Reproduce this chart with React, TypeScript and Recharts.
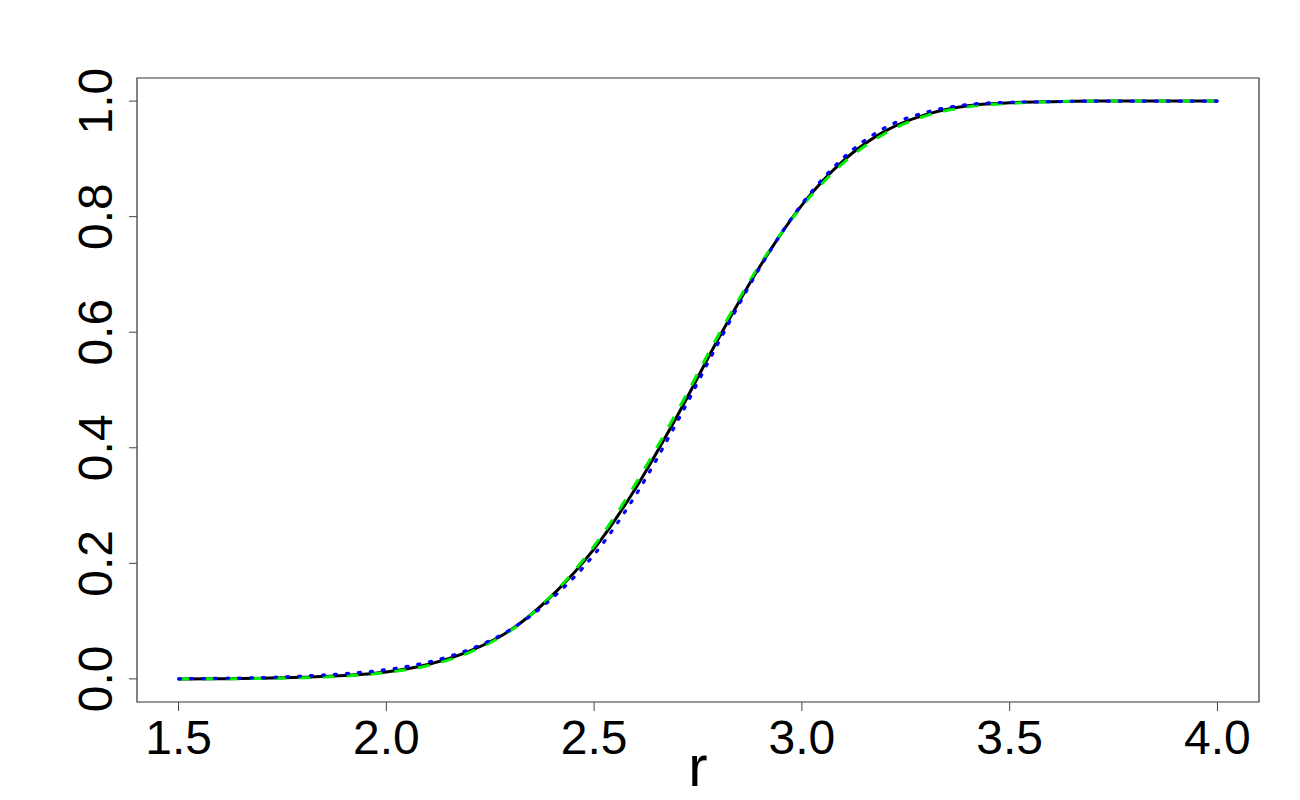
import React from "react";
import {
  LineChart,
  Line,
  XAxis,
  YAxis,
  ReferenceArea,
} from "recharts";

// r grid (0.1 steps)
const rValues = [
  1.5, 1.6, 1.7, 1.8, 1.9, 2.0, 2.1, 2.2, 2.3, 2.4, 2.5, 2.6, 2.7, 2.8, 2.9,
  3.0, 3.1, 3.2, 3.3, 3.4, 3.5, 3.6, 3.7, 3.8, 3.9, 4.0,
];

// solid black curve
const blackValues = [
  0, 0.0003, 0.001, 0.003, 0.006, 0.012, 0.025, 0.048, 0.085, 0.145, 0.225,
  0.33, 0.455, 0.59, 0.715, 0.82, 0.897, 0.948, 0.977, 0.992, 0.997, 0.999, 1,
  1, 1, 1,
];

// dashed green curve
const greenValues = [
  0, 0.0002, 0.0008, 0.002, 0.005, 0.011, 0.023, 0.046, 0.084, 0.146, 0.23,
  0.338, 0.463, 0.596, 0.718, 0.818, 0.893, 0.944, 0.975, 0.99, 0.996, 0.999,
  1, 1, 1, 1,
];

// dotted blue curve
const blueValues = [
  0, 0.001, 0.002, 0.005, 0.009, 0.016, 0.029, 0.051, 0.086, 0.14, 0.215,
  0.318, 0.445, 0.583, 0.713, 0.822, 0.902, 0.954, 0.981, 0.994, 0.998, 0.999,
  1, 1, 1, 1,
];

const xTicks = [1.5, 2.0, 2.5, 3.0, 3.5, 4.0];
const yTicks = [0, 0.2, 0.4, 0.6, 0.8, 1.0];

const FONT = "'Liberation Sans', Arial, sans-serif";

const chartData = rValues.map((r, i) => ({
  r,
  black: blackValues[i],
  green: greenValues[i],
  blue: blueValues[i],
}));

const XTick = (props: any) => {
  const { x, y, payload } = props;
  return (
    <text
      x={x}
      y={y + 41}
      textAnchor="middle"
      fontSize={48}
      fontFamily={FONT}
      fill="#000"
    >
      {Number(payload.value).toFixed(1)}
    </text>
  );
};

const YTick = (props: any) => {
  const { y, payload } = props;
  const bx = 112;
  return (
    <text
      x={bx}
      y={y}
      transform={`rotate(-90, ${bx}, ${y})`}
      textAnchor="middle"
      fontSize={48}
      fontFamily={FONT}
      fill="#000"
    >
      {Number(payload.value).toFixed(1)}
    </text>
  );
};

export default function App() {
  return (
    <div style={{ position: "absolute", left: 0, top: 0, background: "#fff" }}>
      <LineChart
        width={1300}
        height={800}
        data={chartData}
        margin={{ top: 78, right: 41, left: 0, bottom: 0 }}
      >
        <XAxis
          dataKey="r"
          type="number"
          domain={[1.4, 4.1]}
          ticks={xTicks}
          height={98}
          axisLine={false}
          tickLine={{ stroke: "#444", strokeWidth: 1 }}
          tickSize={9}
          tick={<XTick />}
          label={{
            content: (p: any) => {
              const vb = p.viewBox || { x: 137, width: 1122 };
              return (
                <text
                  x={vb.x + vb.width / 2}
                  y={786}
                  textAnchor="middle"
                  fontSize={58}
                  fontFamily={FONT}
                  fill="#000"
                >
                  r
                </text>
              );
            },
          }}
        />
        <YAxis
          type="number"
          domain={[-0.04, 1.04]}
          ticks={yTicks}
          width={137}
          axisLine={false}
          tickLine={{ stroke: "#444", strokeWidth: 1 }}
          tickSize={8}
          tick={<YTick />}
        />
        <ReferenceArea
          x1={1.4}
          x2={4.1}
          y1={-0.04}
          y2={1.04}
          fill="none"
          stroke="#333"
          strokeWidth={1.2}
          ifOverflow="visible"
        />
        <Line
          type="monotone"
          dataKey="black"
          stroke="#000"
          strokeWidth={3}
          dot={false}
          isAnimationActive={false}
        />
        <Line
          type="monotone"
          dataKey="green"
          stroke="#00ee00"
          strokeWidth={3}
          strokeDasharray="12 12"
          dot={false}
          isAnimationActive={false}
        />
        <Line
          type="monotone"
          dataKey="blue"
          stroke="#0000ff"
          strokeWidth={3.2}
          strokeDasharray="2 10"
          strokeLinecap="round"
          dot={false}
          isAnimationActive={false}
        />
      </LineChart>
    </div>
  );
}
